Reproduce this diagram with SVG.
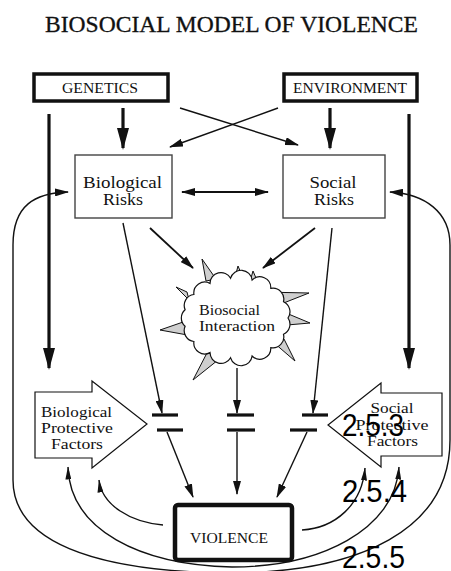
<svg xmlns="http://www.w3.org/2000/svg" width="451" height="571" viewBox="0 0 451 571">
<style>
.t{font-family:"Liberation Serif","Times New Roman",serif;fill:#111}
.ov{font-family:"Liberation Sans",Arial,sans-serif;fill:#000;font-size:32px}
.thick{stroke:#111;stroke-width:3.2;fill:none}
.thin{stroke:#111;stroke-width:1.4;fill:none}
.med{stroke:#111;stroke-width:1.8;fill:none}
.bar{stroke:#111;stroke-width:3.2}
.spike{fill:#cfcfcf;stroke:#111;stroke-width:1}
</style>
<defs>
<marker id="big" markerUnits="userSpaceOnUse" viewBox="0 0 22 12" refX="20" refY="6" markerWidth="22" markerHeight="12" orient="auto"><path d="M0,0 L22,6 L0,12 z" fill="#111"/></marker>
<marker id="ah" markerUnits="userSpaceOnUse" viewBox="0 0 14 8" refX="13" refY="4" markerWidth="14" markerHeight="8" orient="auto-start-reverse"><path d="M0,0 L14,4 L0,8 z" fill="#111"/></marker>
<marker id="ahn" markerUnits="userSpaceOnUse" viewBox="0 0 13 6" refX="12.5" refY="3" markerWidth="13" markerHeight="6" orient="auto-start-reverse"><path d="M0,0 L13,3 L0,6 z" fill="#111"/></marker>
</defs>
<rect width="451" height="571" fill="#fff"/>
<text class="t" x="231.5" y="32" font-size="23" text-anchor="middle" textLength="373" lengthAdjust="spacingAndGlyphs" stroke="#111" stroke-width="0.3">BIOSOCIAL MODEL OF VIOLENCE</text>

<g id="connectors">
<line class="thick" x1="49" y1="114" x2="49" y2="368" marker-end="url(#big)"/>
<line class="thick" x1="409" y1="114" x2="409" y2="368" marker-end="url(#big)"/>
<line class="thick" x1="123" y1="108" x2="123" y2="148" marker-end="url(#big)"/>
<line class="thick" x1="330" y1="108" x2="330" y2="148" marker-end="url(#big)"/>
<line class="thin" x1="180" y1="108" x2="298" y2="145" marker-end="url(#ah)"/>
<line class="thin" x1="278" y1="108" x2="170" y2="147" marker-end="url(#ah)"/>
<line class="med" x1="182" y1="192" x2="268" y2="192" marker-start="url(#ah)" marker-end="url(#ah)"/>
<line class="med" x1="150" y1="228" x2="193" y2="268" marker-end="url(#ah)"/>
<line class="med" x1="315" y1="228" x2="263" y2="268" marker-end="url(#ah)"/>
<line class="thin" x1="123" y1="223" x2="162" y2="413" marker-end="url(#ah)"/>
<line class="thin" x1="237" y1="368" x2="237" y2="413" marker-end="url(#ah)"/>
<line class="thin" x1="332" y1="228" x2="313" y2="413" marker-end="url(#ah)"/>
<line class="thin" x1="167" y1="432" x2="193" y2="497" marker-end="url(#ah)"/>
<line class="thin" x1="237" y1="432" x2="237" y2="494" marker-end="url(#ah)"/>
<line class="thin" x1="307" y1="432" x2="277" y2="497" marker-end="url(#ah)"/>
<path class="thin" d="M390,192 C425,194 450,212 450,245 L450,440 C450,530 360,572 232,573 C90,572 13,540 13,480 L13,245 C13,205 35,193 68,192" marker-start="url(#ah)" marker-end="url(#ah)"/>
<path class="thin" d="M68,467 C70,530 140,565 232,567 C320,567 395,530 399,467" marker-start="url(#ahn)" marker-end="url(#ahn)"/>
<path class="thin" d="M163,525 C130,522 102,505 99,480" marker-end="url(#ahn)"/>
<path class="thin" d="M302,530 C335,528 362,505 365,468" marker-end="url(#ahn)"/>
</g>

<g id="gates">
<line class="bar" x1="152" y1="415" x2="178" y2="415"/>
<line class="bar" x1="157" y1="430" x2="183" y2="430"/>
<line class="bar" x1="227" y1="415" x2="254" y2="415"/>
<line class="bar" x1="227" y1="430" x2="255" y2="430"/>
<line class="bar" x1="302" y1="415" x2="328" y2="415"/>
<line class="bar" x1="290" y1="430" x2="317" y2="430"/>
</g>

<g id="genetics">
<rect x="34" y="74" width="134" height="27" fill="#fff" stroke="#111" stroke-width="3.5"/>
<text class="t" x="100" y="93" font-size="15" text-anchor="middle" textLength="76" lengthAdjust="spacingAndGlyphs">GENETICS</text>
</g>
<g id="environment">
<rect x="284" y="74" width="133" height="27" fill="#fff" stroke="#111" stroke-width="3.5"/>
<text class="t" x="350" y="93" font-size="15" text-anchor="middle" textLength="114" lengthAdjust="spacingAndGlyphs">ENVIRONMENT</text>
</g>

<g id="biological-risks">
<rect x="75" y="155" width="97" height="63" fill="none" stroke="#444" stroke-width="1.4"/>
<text class="t" x="122.5" y="188" font-size="17.5" text-anchor="middle" textLength="79" lengthAdjust="spacingAndGlyphs">Biological</text>
<text class="t" x="123" y="205" font-size="17.5" text-anchor="middle" textLength="40" lengthAdjust="spacingAndGlyphs">Risks</text>
</g>
<g id="social-risks">
<rect x="283" y="155" width="102" height="63" fill="none" stroke="#444" stroke-width="1.4"/>
<text class="t" x="333" y="188" font-size="17.5" text-anchor="middle" textLength="47" lengthAdjust="spacingAndGlyphs">Social</text>
<text class="t" x="334" y="205" font-size="17.5" text-anchor="middle" textLength="40" lengthAdjust="spacingAndGlyphs">Risks</text>
</g>

<g id="biosocial-interaction">
<polygon class="spike" points="202,259 206,281 216,279"/>
<polygon class="spike" points="238,266 234,281 244,280"/>
<polygon class="spike" points="253,271 249,285 259,285"/>
<polygon class="spike" points="309,293 262,292 276,306"/>
<polygon class="spike" points="310,323 286,313 287,325"/>
<polygon class="spike" points="295,361 273,342 284,339"/>
<polygon class="spike" points="193,380 209,349 223,356"/>
<polygon class="spike" points="160,330 186,321 193,336"/>
<polygon class="spike" points="176,287 187,292 189,300"/>
<path d="M288,318 A11,11 0 0 1 283.5,334.3 A11,11 0 0 1 270.8,347.7 A11,11 0 0 1 252.1,356 A11,11 0 0 1 230.6,357.8 A11,11 0 0 1 210,352.6 A11,11 0 0 1 193.9,341.5 A11,11 0 0 1 185.1,326.3 A11,11 0 0 1 185.1,309.7 A11,11 0 0 1 193.9,294.5 A11,11 0 0 1 210,283.4 A11,11 0 0 1 230.6,278.2 A11,11 0 0 1 252.1,280 A11,11 0 0 1 270.8,288.3 A11,11 0 0 1 283.5,301.7 A11,11 0 0 1 288,318 Z" fill="#fff" stroke="#111" stroke-width="1.2"/>
<text class="t" x="199" y="315" font-size="15.5" textLength="61" lengthAdjust="spacingAndGlyphs">Biosocial</text>
<text class="t" x="199" y="331" font-size="15.5" textLength="76" lengthAdjust="spacingAndGlyphs">Interaction</text>
</g>

<g id="biological-protective-factors">
<path d="M35,392 L92,392 L92,381 L147,424 L92,468 L92,458 L35,458 Z" fill="#fff" stroke="#111" stroke-width="1.2"/>
<text class="t" x="76.5" y="417" font-size="15.5" text-anchor="middle" textLength="71" lengthAdjust="spacingAndGlyphs">Biological</text>
<text class="t" x="77" y="433" font-size="15.5" text-anchor="middle" textLength="72" lengthAdjust="spacingAndGlyphs">Protective</text>
<text class="t" x="77" y="449" font-size="15.5" text-anchor="middle" textLength="52" lengthAdjust="spacingAndGlyphs">Factors</text>
</g>
<g id="social-protective-factors">
<path d="M442,393 L381,393 L381,383 L328,425 L381,467 L381,456 L442,456 Z" fill="#fff" stroke="#111" stroke-width="1.2"/>
<text class="t" x="392" y="413" font-size="15.5" text-anchor="middle" textLength="43" lengthAdjust="spacingAndGlyphs">Social</text>
<text class="t" x="392" y="430" font-size="15.5" text-anchor="middle" textLength="73" lengthAdjust="spacingAndGlyphs">Protective</text>
<text class="t" x="392.5" y="446" font-size="15.5" text-anchor="middle" textLength="51" lengthAdjust="spacingAndGlyphs">Factors</text>
</g>

<g id="violence">
<rect x="175" y="505" width="117" height="55" rx="3" fill="#fff" stroke="#111" stroke-width="4.5"/>
<text class="t" x="229" y="543" font-size="15" text-anchor="middle" textLength="78" lengthAdjust="spacingAndGlyphs">VIOLENCE</text>
</g>

<g id="overlay-labels">
<text class="ov" x="342" y="436" textLength="62" lengthAdjust="spacingAndGlyphs">2.5.3</text>
<text class="ov" x="342" y="502" textLength="65" lengthAdjust="spacingAndGlyphs">2.5.4</text>
<text class="ov" x="342" y="568" textLength="63" lengthAdjust="spacingAndGlyphs">2.5.5</text>
</g>
</svg>
